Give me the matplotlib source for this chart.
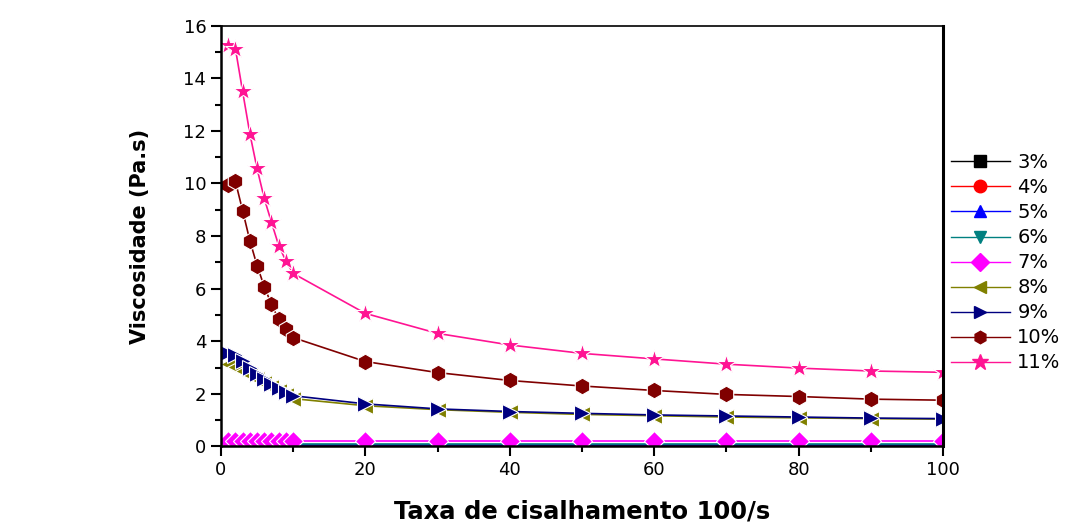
import matplotlib.pyplot as plt
from matplotlib.lines import Line2D

plt.rcParams["font.family"] = ["DejaVu Sans"]

# shear rate (x100 1/s)
taxa = [1, 2, 3, 4, 5, 6, 7, 8, 9, 10, 20, 30, 40, 50, 60, 70, 80, 90, 100]

visc_3 = [0.02] * 19
visc_4 = [0.04] * 19
visc_5 = [0.07] * 19
visc_6 = [0.11] * 19
visc_7 = [0.21, 0.21, 0.21, 0.21, 0.21, 0.21, 0.21, 0.21, 0.21, 0.21,
          0.21, 0.21, 0.21, 0.21, 0.21, 0.21, 0.21, 0.21, 0.21]
visc_8 = [3.12, 3.02, 2.88, 2.72, 2.55, 2.4, 2.25, 2.1, 1.95, 1.82,
          1.55, 1.4, 1.3, 1.22, 1.17, 1.12, 1.09, 1.06, 1.04]
visc_9 = [3.57, 3.47, 3.25, 3.0, 2.76, 2.55, 2.37, 2.21, 2.06, 1.93,
          1.62, 1.43, 1.33, 1.26, 1.2, 1.16, 1.12, 1.08, 1.06]
visc_10 = [9.96, 10.08, 8.97, 7.83, 6.88, 6.08, 5.4, 4.83, 4.45, 4.14,
           3.23, 2.81, 2.51, 2.3, 2.13, 1.98, 1.9, 1.8, 1.76]
visc_11 = [15.28, 15.13, 13.5, 11.9, 10.57, 9.43, 8.52, 7.64, 7.05, 6.58,
           5.06, 4.3, 3.86, 3.54, 3.33, 3.13, 2.98, 2.87, 2.82]

labels = ["3%", "4%", "5%", "6%", "7%", "8%", "9%", "10%", "11%"]
series = [visc_3, visc_4, visc_5, visc_6, visc_7, visc_8, visc_9, visc_10, visc_11]
colors = ["black", "red", "blue", "#008080", "magenta", "#808000",
          "#000080", "#800000", "#ff1493"]
markers = ["s", "o", "^", "v", "D", "<", ">", "h", "*"]
msizes = [4, 4, 4, 4, 10, 11, 11, 12, 15]

fig = plt.figure(figsize=(10.7, 5.23), dpi=100)
ax = fig.add_axes([0.2065, 0.1463, 0.6748, 0.8046])

for y, c, m, ms in zip(series, colors, markers, msizes):
    ax.plot(taxa, y, "-", color=c, lw=1.2, marker=m, ms=ms,
            markerfacecolor=c, markeredgecolor="white", markeredgewidth=0.8)

ax.set_xlim(0, 100)
ax.set_ylim(0, 16)
ax.set_xticks(range(0, 101, 20))
ax.set_xticks(range(10, 100, 20), minor=True)
ax.set_yticks(range(0, 17, 2))
ax.set_yticks(range(1, 16, 2), minor=True)
ax.tick_params(which="major", direction="out", length=7, width=1.5,
               labelsize=13, colors="black")
ax.tick_params(which="minor", direction="out", length=4, width=1.5)
for side in ["left", "bottom"]:
    ax.spines[side].set_linewidth(1.8)
ax.spines["top"].set_linewidth(1.2)
ax.spines["right"].set_linewidth(2.2)

ax.set_xlabel("Taxa de cisalhamento 100/s", fontsize=17.5,
              fontweight="bold", labelpad=15)
ax.set_ylabel("Viscosidade (Pa.s)", fontsize=15, fontweight="bold",
              labelpad=24)

handles = [Line2D([], [], color=c, lw=1.0, marker=m,
                  ms=12 if m == "*" else 9,
                  markerfacecolor=c, markeredgecolor=c)
           for c, m in zip(colors, markers)]
fig.legend(handles, labels, loc="upper left", bbox_to_anchor=(0.889, 0.707),
           frameon=False, fontsize=14, handlelength=3.0, handletextpad=0.4,
           labelspacing=0.31, borderaxespad=0, borderpad=0)

fig.savefig("out.png", dpi=100)
